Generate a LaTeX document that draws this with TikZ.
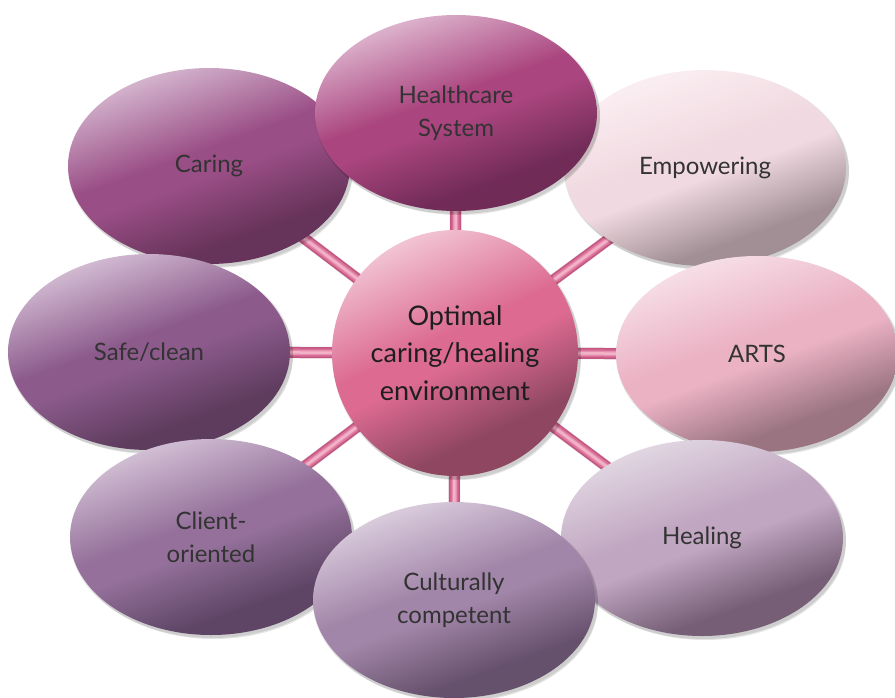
\documentclass[tikz,border=0pt]{standalone}
\usepackage{fontspec}
\setmainfont{Lato}
\usetikzlibrary{shapes.geometric,shadows,backgrounds}
\definecolor{lightc}{HTML}{FFFFFF}
\definecolor{midc}{HTML}{888888}
\definecolor{darkc}{HTML}{000000}
\definecolor{txt}{HTML}{333333}
\definecolor{ctxt}{HTML}{1E1E1E}
\pgfdeclareverticalshading[lightc,midc,darkc]{bubshade}{100bp}{color(0bp)=(darkc); color(32bp)=(darkc); color(48bp)=(midc); color(54bp)=(midc); color(77bp)=(lightc); color(100bp)=(lightc)}
\tikzset{
  softshadow/.style={
    general shadow={shadow xshift=1.5pt,shadow yshift=-2pt,fill=black,opacity=.10,shadow scale=1.01},
    general shadow={shadow xshift=3pt,shadow yshift=-4pt,fill=black,opacity=.10}},
  bub/.style n args={3}{ellipse, minimum width=282pt, minimum height=196pt, inner sep=0pt,
    align=center, font=\fontsize{24}{33}\selectfont, text=txt,
    /utils/exec={\definecolor{lightc}{HTML}{#1}\definecolor{midc}{HTML}{#2}\definecolor{darkc}{HTML}{#3}},
    softshadow, shading=bubshade, shading angle=20},
  hub/.style n args={3}{circle, minimum size=246pt, inner sep=0pt, align=center,
    font=\fontsize{27}{37.5}\selectfont, text=ctxt,
    /utils/exec={\definecolor{lightc}{HTML}{#1}\definecolor{midc}{HTML}{#2}\definecolor{darkc}{HTML}{#3}},
    softshadow, shading=bubshade, shading angle=25},
  spokeshadow/.style={line width=12pt, draw=black, opacity=.10, shift={(2pt,-2pt)}},
  spoke/.style={line width=11pt, draw=spokec},
  spokeb/.style={line width=8pt, draw=spokeb},
  spokemid/.style={line width=5pt, draw=spokem},
  spokehi/.style={line width=2.5pt, draw=spokeh}
}
\definecolor{spokec}{HTML}{C45580}
\definecolor{spokeb}{HTML}{D66E97}
\definecolor{spokem}{HTML}{E78DAD}
\definecolor{spokeh}{HTML}{F2B2C8}
\begin{document}
\begin{tikzpicture}[x=1pt,y=-1pt]
\useasboundingbox (0,0) rectangle (895,697);
% ellipses, back to front
\node[bub={DCC3D8}{9A4E86}{66335A}] (car) at (209,166) {Caring};
\node[bub={FCF1F4}{F0D9E0}{A18F95}] (emp) at (705,168) {Empowering};
\node[bub={E4C3D8}{AA457F}{702B57}] (hc) at (456,113) {Healthcare\\System};
\node[bub={DCC8DC}{8C5B8C}{5E3C5E}] (safe) at (149,352) {Safe/clean};
\node[bub={F8E5EC}{EBB2C4}{9B7481}] (arts) at (757,354) {ARTS};
\node[bub={DACADC}{94709A}{5E4566}] (cli) at (211,537) {Client-\\oriented};
\node[bub={E6DDE7}{C0A6C1}{765E76}] (heal) at (702,538) {Healing};
\node[bub={E2D6E4}{A286A9}{66516D}] (cult) at (454,600) {Culturally\\competent};
\node[hub={F4CCDA}{DC6A91}{8E4661}] (c) at (455,353) {Optimal\\caring/healing\\environment};
\begin{scope}[on background layer]
\foreach \n in {hc,car,emp,safe,arts,cli,heal,cult}{
  \draw[spokeshadow] (c.center) -- (\n.center);
  \draw[spoke] (c.center) -- (\n.center);
  \draw[spokeb] (c.center) -- (\n.center);
  \draw[spokemid] (c.center) -- (\n.center);
  \draw[spokehi] (c.center) -- (\n.center);
}
\end{scope}
\end{tikzpicture}
\end{document}
